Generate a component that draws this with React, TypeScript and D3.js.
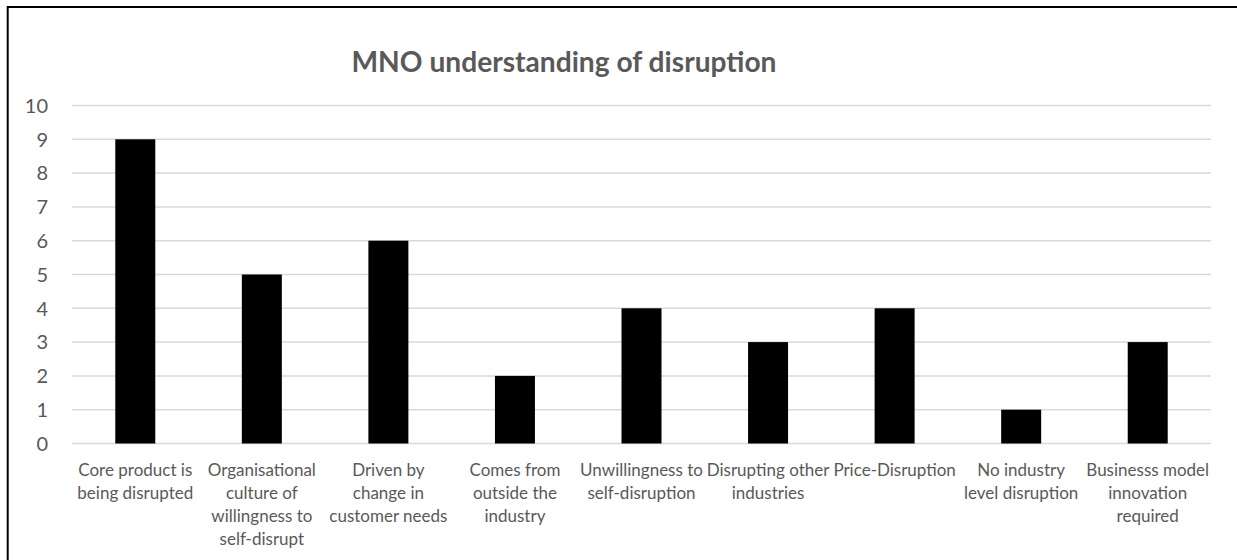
import React from "react";
import * as d3 from "d3";

const title = "MNO understanding of disruption";
const categories = [
  "Core product is\nbeing disrupted",
  "Organisational\nculture of\nwillingness to\nself-disrupt",
  "Driven by\nchange in\ncustomer needs",
  "Comes from\noutside the\nindustry",
  "Unwillingness to\nself-disruption",
  "Disrupting other\nindustries",
  "Price-Disruption",
  "No industry\nlevel disruption",
  "Businesss model\ninnovation\nrequired",
];
const values = [9, 5, 6, 2, 4, 3, 4, 1, 3];
const yTicks = [0, 1, 2, 3, 4, 5, 6, 7, 8, 9, 10];

const W = 1237;
const H = 560;
const FONT = "Lato, 'Open Sans', sans-serif";
const GRAY = "#595959";

export default function App() {
  const x = d3
    .scaleBand<string>()
    .domain(categories)
    .range([72, 1211])
    .paddingInner(0.684)
    .paddingOuter(0.342);
  const y = d3.scaleLinear().domain([0, 10]).range([443.5, 105.5]);

  return (
    <svg
      width={W}
      height={H}
      style={{ position: "absolute", left: 0, top: 0, background: "#fff" }}
    >
      <rect x={0} y={0} width={W} height={H} fill="#fff" />
      <path d={`M7.7,${H + 5} V6.9 H${W + 5}`} fill="none" stroke="#000" strokeWidth={2} />
      <text
        x={564}
        y={71.5}
        textAnchor="middle"
        fontFamily={FONT}
        fontWeight={700}
        fontSize={29}
        fill={GRAY}
        textLength={425}
        lengthAdjust="spacingAndGlyphs"
      >
        {title}
      </text>
      {yTicks.map((t) => (
        <g key={t}>
          <line x1={72} x2={1211} y1={y(t)} y2={y(t)} stroke="#d9d9d9" strokeWidth={1.5} />
          <text
            x={48}
            y={y(t)}
            dy="0.36em"
            textAnchor="end"
            fontFamily={FONT}
            fontSize={20}
            fill={GRAY}
          >
            {t}
          </text>
        </g>
      ))}
      {categories.map((c, i) => (
        <rect
          key={c}
          x={x(c)}
          y={y(values[i])}
          width={x.bandwidth()}
          height={y(0) - y(values[i])}
          fill="#000"
        />
      ))}
      {categories.map((c) => {
        const cx = (x(c) as number) + x.bandwidth() / 2;
        return (
          <text key={c} textAnchor="middle" fontFamily={FONT} fontSize={17} fill={GRAY}>
            {c.split("\n").map((ln, j) => (
              <tspan key={j} x={cx} y={476 + j * 23}>
                {ln}
              </tspan>
            ))}
          </text>
        );
      })}
    </svg>
  );
}
